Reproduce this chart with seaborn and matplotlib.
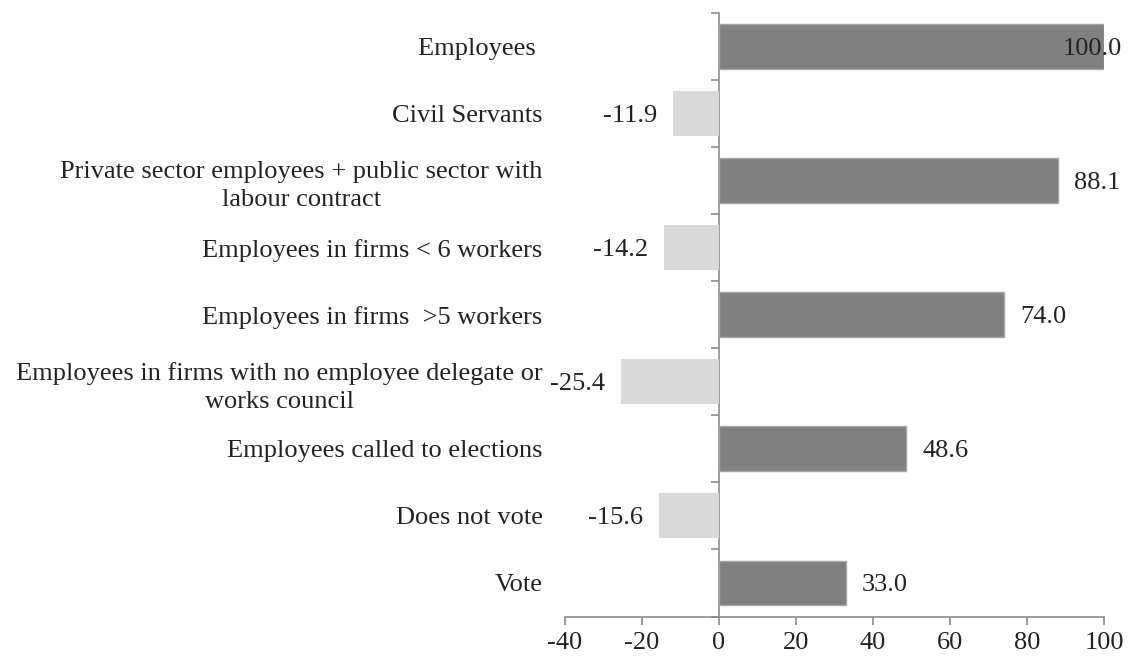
import numpy as np
import pandas as pd
import matplotlib
matplotlib.use("Agg")
import matplotlib.pyplot as plt
import seaborn as sns

# Differences by employee group
categories = [
    "Employees ",
    "Civil Servants",
    "Private sector employees + public sector with\nlabour contract",
    "Employees in firms < 6 workers",
    "Employees in firms  >5 workers",
    "Employees in firms with no employee delegate or\nworks council",
    "Employees called to elections",
    "Does not vote",
    "Vote",
]
values = [100.0, -11.9, 88.1, -14.2, 74.0, -25.4, 48.6, -15.6, 33.0]
x_ticks = [-40, -20, 0, 20, 40, 60, 80, 100]

POS_COLOR = "#808080"
POS_EDGE = "#a6a6a6"
NEG_COLOR = "#d9d9d9"
TEXT_COLOR = "#222222"
AXIS_COLOR = "#8c8c8c"
FONT_SIZE = 19

sns.set_theme(style="white")
plt.rcParams["font.family"] = ["Liberation Serif", "DejaVu Serif"]
plt.rcParams["axes.unicode_minus"] = False

df = pd.DataFrame({"group": categories, "value": values})
colors = [POS_COLOR if v >= 0 else NEG_COLOR for v in values]

fig = plt.figure(figsize=(11.34, 6.57), dpi=100)
ax = fig.add_axes([0.4982, 0.0616, 0.4753, 0.9186])

sns.barplot(data=df, x="value", y="group", hue="group", palette=colors,
            orient="h", width=0.67, legend=False, linewidth=0, ax=ax)

# Thin lighter outline on the positive bars
for patch, v in zip(ax.patches, values):
    if v >= 0:
        patch.set_edgecolor(POS_EDGE)
        patch.set_linewidth(1.0)

xmin, xmax = x_ticks[0], x_ticks[-1]
ax.set_xlim(xmin, xmax)
ax.set_ylim(len(categories) - 0.5, -0.5)
ax.set_xticks(x_ticks)
ax.set_xticklabels([str(t) for t in x_ticks])
ax.set_xlabel("")
ax.set_ylabel("")

for side in ("top", "right", "left"):
    ax.spines[side].set_visible(False)
ax.spines["bottom"].set_color(AXIS_COLOR)
ax.spines["bottom"].set_linewidth(1.2)

ax.tick_params(axis="x", direction="out", length=6, width=1.2, color=AXIS_COLOR,
               labelsize=FONT_SIZE, labelcolor=TEXT_COLOR, pad=5, bottom=True)
ax.tick_params(axis="y", length=0, labelsize=FONT_SIZE, labelcolor=TEXT_COLOR, pad=16)
for lab in ax.get_yticklabels():
    lab.set_multialignment("center")
    lab.set_linespacing(1.35)

# Vertical axis line at zero with ticks between categories
zero_loc = (0 - xmin) / (xmax - xmin)
sec = ax.secondary_yaxis(zero_loc)
sec.set_yticks(np.arange(len(categories) + 1) - 0.5)
sec.set_yticklabels([])
sec.spines["left"].set_color(AXIS_COLOR)
sec.spines["left"].set_linewidth(1.2)
sec.tick_params(axis="y", direction="out", length=6, width=1.2, color=AXIS_COLOR)

# Value labels outside bar ends; the full-length bar keeps its label inside the figure
for i, v in enumerate(values):
    txt = f"{v:.1f}"
    if v >= xmax:
        ha, dx = "right", 13
    elif v >= 0:
        ha, dx = "left", 11.5
    else:
        ha, dx = "right", -11.5
    ax.annotate(txt, xy=(v, i), xytext=(dx, 0), textcoords="offset points",
                ha=ha, va="center_baseline", fontsize=FONT_SIZE, color=TEXT_COLOR,
                annotation_clip=False)

fig.savefig("out.png", dpi=100)
